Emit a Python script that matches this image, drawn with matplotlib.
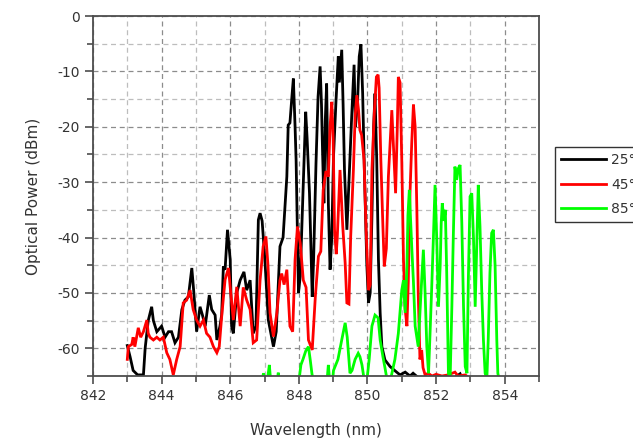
import matplotlib
matplotlib.use("Agg")
import matplotlib.pyplot as plt
from matplotlib.ticker import MultipleLocator

plt.rcParams["axes.unicode_minus"] = False

# ---- data (wavelength nm, optical power dBm) ----
wl_25 = [843.00, 843.08, 843.17, 843.30, 843.47, 843.52, 843.61, 843.71, 843.76, 843.86,
         844.00, 844.10, 844.20, 844.29, 844.39, 844.49, 844.59, 844.68, 844.78, 844.88,
         844.94, 845.02, 845.12, 845.19, 845.27, 845.39, 845.46, 845.56, 845.61, 845.70,
         845.75, 845.80, 845.85, 845.92, 846.00, 846.04, 846.09, 846.19, 846.29, 846.40,
         846.48, 846.58, 846.67, 846.75, 846.82, 846.87, 846.93, 847.01, 847.11, 847.26,
         847.34, 847.45, 847.54, 847.65, 847.69, 847.74, 847.79, 847.84, 847.89, 847.92,
         847.99, 848.04, 848.12, 848.20, 848.24, 848.31, 848.39, 848.43, 848.50, 848.56,
         848.62, 848.66, 848.69, 848.73, 848.77, 848.81, 848.86, 848.91, 848.96, 849.01,
         849.08, 849.15, 849.18, 849.25, 849.29, 849.33, 849.40, 849.46, 849.54, 849.61,
         849.65, 849.71, 849.76, 849.81, 849.86, 849.91, 849.98, 850.03, 850.08, 850.13,
         850.18, 850.22, 850.27, 850.32, 850.37, 850.42, 850.51, 850.66, 850.85, 850.95,
         851.10, 851.24, 851.33, 851.48, 851.70, 852.00, 852.50, 852.70, 852.80]
db_25 = [-59.5, -61.5, -64.0, -64.8, -64.8, -60.0, -55.0, -52.5, -55.0, -57.0,
         -56.0, -58.0, -57.0, -57.0, -59.0, -58.0, -53.0, -51.3, -50.7, -45.5,
         -50.0, -57.0, -52.5, -54.0, -56.0, -50.4, -53.0, -54.0, -58.5, -56.0,
         -54.0, -45.2, -45.8, -38.6, -44.0, -56.0, -57.3, -50.0, -47.7, -46.2,
         -49.5, -47.7, -57.3, -56.0, -36.8, -35.6, -37.0, -44.0, -54.9, -59.7,
         -57.0, -41.6, -40.0, -29.0, -19.7, -19.3, -15.2, -11.3, -20.0, -26.0,
         -50.0, -47.0, -32.0, -17.3, -22.0, -32.0, -50.7, -44.0, -26.6, -14.6,
         -9.1, -16.0, -24.2, -33.8, -19.0, -12.2, -33.8, -45.8, -40.0, -25.4,
         -15.7, -7.3, -12.0, -6.1, -16.0, -27.8, -38.6, -30.0, -18.2, -8.8,
         -20.0, -15.7, -7.3, -5.1, -14.0, -27.8, -44.6, -51.8, -50.0, -36.2,
         -20.0, -14.0, -26.0, -44.0, -53.6, -59.7, -62.1, -63.3, -64.3, -64.8,
         -64.3, -65.0, -64.5, -65.3, -65.5, -65.5, -65.5, -64.6, -66.0]

wl_45 = [843.00, 843.03, 843.13, 843.17, 843.22, 843.32, 843.39, 843.47, 843.57, 843.61,
         843.66, 843.76, 843.86, 843.95, 844.05, 844.15, 844.24, 844.34, 844.44, 844.54,
         844.63, 844.73, 844.83, 844.92, 845.02, 845.12, 845.22, 845.31, 845.41, 845.51,
         845.61, 845.68, 845.75, 845.85, 845.95, 846.00, 846.09, 846.19, 846.29, 846.38,
         846.48, 846.58, 846.67, 846.77, 846.87, 846.96, 847.04, 847.10, 847.16, 847.26,
         847.36, 847.45, 847.50, 847.57, 847.65, 847.74, 847.82, 847.89, 847.96, 848.04,
         848.13, 848.21, 848.28, 848.39, 848.48, 848.57, 848.64, 848.71, 848.79, 848.86,
         848.91, 848.96, 849.00, 849.04, 849.09, 849.12, 849.20, 849.28, 849.35, 849.40,
         849.46, 849.51, 849.59, 849.64, 849.69, 849.74, 849.78, 849.83, 849.90, 849.96,
         850.03, 850.08, 850.13, 850.20, 850.26, 850.31, 850.34, 850.39, 850.45, 850.49,
         850.55, 850.61, 850.66, 850.71, 850.76, 850.82, 850.87, 850.90, 850.95, 851.00,
         851.05, 851.10, 851.15, 851.19, 851.24, 851.29, 851.34, 851.39, 851.44, 851.48,
         851.53, 851.58, 851.62, 851.68, 851.77, 851.88, 852.00, 852.17, 852.35, 852.55,
         852.64, 852.85, 852.99]
db_45 = [-62.0, -59.7, -59.3, -58.0, -59.7, -56.3, -58.0, -57.0, -54.9, -57.3,
         -58.0, -58.5, -58.0, -58.5, -58.0, -60.8, -62.0, -64.8, -62.0, -59.7,
         -51.8, -51.3, -49.5, -53.0, -54.9, -56.0, -54.9, -57.3, -58.0, -59.7,
         -60.8, -59.7, -54.3, -47.6, -45.5, -49.0, -54.9, -48.9, -56.0, -49.0,
         -51.3, -53.0, -59.0, -58.5, -47.7, -41.6, -39.8, -45.0, -53.6, -57.9,
         -53.6, -47.7, -46.5, -48.5, -45.8, -56.0, -57.0, -44.0, -38.0, -41.0,
         -47.7, -49.0, -58.5, -60.3, -50.7, -43.4, -42.5, -31.4, -28.0, -29.0,
         -20.0, -15.5, -22.0, -38.6, -43.0, -40.0, -27.8, -38.0, -44.6, -51.8,
         -52.0, -40.0, -27.8, -18.2, -14.3, -17.0, -20.6, -21.5, -26.0, -38.6,
         -49.5, -48.5, -27.8, -17.5, -11.0, -10.6, -13.0, -26.0, -38.0, -45.2,
         -42.0, -29.0, -23.0, -17.0, -24.0, -32.0, -20.0, -11.0, -12.0, -26.0,
         -44.0, -53.0, -56.0, -48.0, -32.0, -23.0, -16.0, -20.0, -35.0, -50.0,
         -62.0, -60.3, -63.5, -64.8, -64.5, -65.0, -64.7, -65.0, -64.8, -64.3,
         -65.0, -64.8, -65.5]

wl_85 = [845.50, 845.98, 846.00, 846.03, 846.32, 846.35, 846.38, 846.92, 846.97, 847.02,
         847.10, 847.14, 847.18, 847.37, 847.40, 847.43, 848.00, 848.06, 848.12, 848.20,
         848.28, 848.33, 848.38, 848.42, 848.82, 848.86, 848.90, 848.98, 849.01, 849.14,
         849.25, 849.35, 849.41, 849.49, 849.55, 849.64, 849.73, 849.78, 849.84, 849.90,
         849.98, 850.05, 850.13, 850.22, 850.31, 850.37, 850.45, 850.51, 850.58, 850.66,
         850.80, 850.90, 851.00, 851.05, 851.10, 851.15, 851.18, 851.22, 851.29, 851.34,
         851.39, 851.48, 851.53, 851.58, 851.63, 851.68, 851.73, 851.78, 851.82, 851.87,
         851.92, 851.97, 852.02, 852.07, 852.12, 852.15, 852.18, 852.23, 852.27, 852.31,
         852.36, 852.41, 852.46, 852.50, 852.55, 852.60, 852.65, 852.70, 852.75, 852.80,
         852.85, 852.90, 852.94, 852.99, 853.04, 853.09, 853.14, 853.19, 853.23, 853.28,
         853.33, 853.38, 853.43, 853.48, 853.52, 853.57, 853.62, 853.67, 853.72, 853.77,
         853.80, 853.85, 854.00]
db_85 = [-66.0, -66.0, -65.2, -66.0, -66.0, -65.2, -66.0, -66.0, -64.5, -66.0,
         -65.0, -63.0, -66.0, -66.0, -64.4, -66.0, -66.0, -63.0, -62.0, -60.5,
         -59.7, -62.0, -64.5, -66.0, -66.0, -63.0, -66.0, -66.0, -64.0, -62.0,
         -58.5, -55.4, -58.0, -64.5, -64.0, -62.0, -60.9, -61.5, -63.0, -65.5,
         -66.0, -62.0, -56.0, -54.0, -54.5, -58.5, -61.5, -63.5, -66.0, -66.0,
         -62.0, -57.3, -49.5, -47.7, -53.6, -45.2, -36.0, -31.4, -41.6, -48.0,
         -56.0, -59.7, -53.6, -47.7, -42.2, -50.0, -59.7, -64.5, -58.0, -49.5,
         -40.4, -30.5, -40.4, -52.5, -45.0, -37.4, -33.8, -37.0, -35.0, -46.4,
         -64.5, -65.5, -52.5, -40.4, -27.2, -29.6, -27.5, -26.9, -37.4, -52.5,
         -63.3, -64.5, -47.7, -32.6, -32.0, -40.0, -52.5, -40.4, -30.5, -38.0,
         -49.5, -58.5, -64.5, -65.5, -58.5, -46.4, -39.2, -38.6, -45.0, -58.5,
         -64.5, -66.0, -66.0]

series_labels = ["25°C", "45°C", "85°C"]
series_colors = ["#000000", "#ff0000", "#00ff00"]

x_label = "Wavelength (nm)"
y_label = "Optical Power (dBm)"

# ---- figure ----
fig = plt.figure(figsize=(6.33, 4.44), dpi=100)
ax = fig.add_axes([93 / 633, 1 - 376 / 444, (539 - 93) / 633, (376 - 16) / 444])

for wl, db, lab, col in zip([wl_25, wl_45, wl_85], [db_25, db_45, db_85],
                            series_labels, series_colors):
    ax.plot(wl, db, color=col, lw=2.0, label=lab, solid_joinstyle="miter")

ax.set_xlim(842, 855)
ax.set_ylim(-65, 0)
ax.xaxis.set_major_locator(MultipleLocator(2))
ax.xaxis.set_minor_locator(MultipleLocator(1))
ax.yaxis.set_major_locator(MultipleLocator(10))
ax.yaxis.set_minor_locator(MultipleLocator(5))

ax.grid(which="major", color="#8c8c8c", linestyle=(0, (4, 3)), lw=0.9)
ax.grid(which="minor", color="#bdbdbd", linestyle=(0, (4, 3)), lw=0.9)
ax.set_axisbelow(True)

for s in ax.spines.values():
    s.set_color("#4d4d4d")
    s.set_linewidth(1.3)

ax.tick_params(which="both", direction="out", color="#4d4d4d", width=1.2,
               labelsize=10, labelcolor="#333333", top=False, right=False)
ax.tick_params(which="major", length=6)
ax.tick_params(which="minor", length=4)

ax.set_xlabel(x_label, fontsize=11, color="#333333", labelpad=14)
ax.set_ylabel(y_label, fontsize=11, color="#333333", labelpad=12)

handles, labels = ax.get_legend_handles_labels()
leg = fig.legend(handles, labels, loc="upper left",
                 bbox_to_anchor=(555 / 633, 1 - 147 / 444),
                 frameon=True, fancybox=False, fontsize=10,
                 handlelength=3.2, handletextpad=0.4, labelspacing=0.75,
                 borderpad=0.45, borderaxespad=0.0)
leg.get_frame().set_edgecolor("#000000")
leg.get_frame().set_linewidth(1.0)
for t in leg.get_texts():
    t.set_color("#333333")

fig.savefig("out.png", dpi=100)
